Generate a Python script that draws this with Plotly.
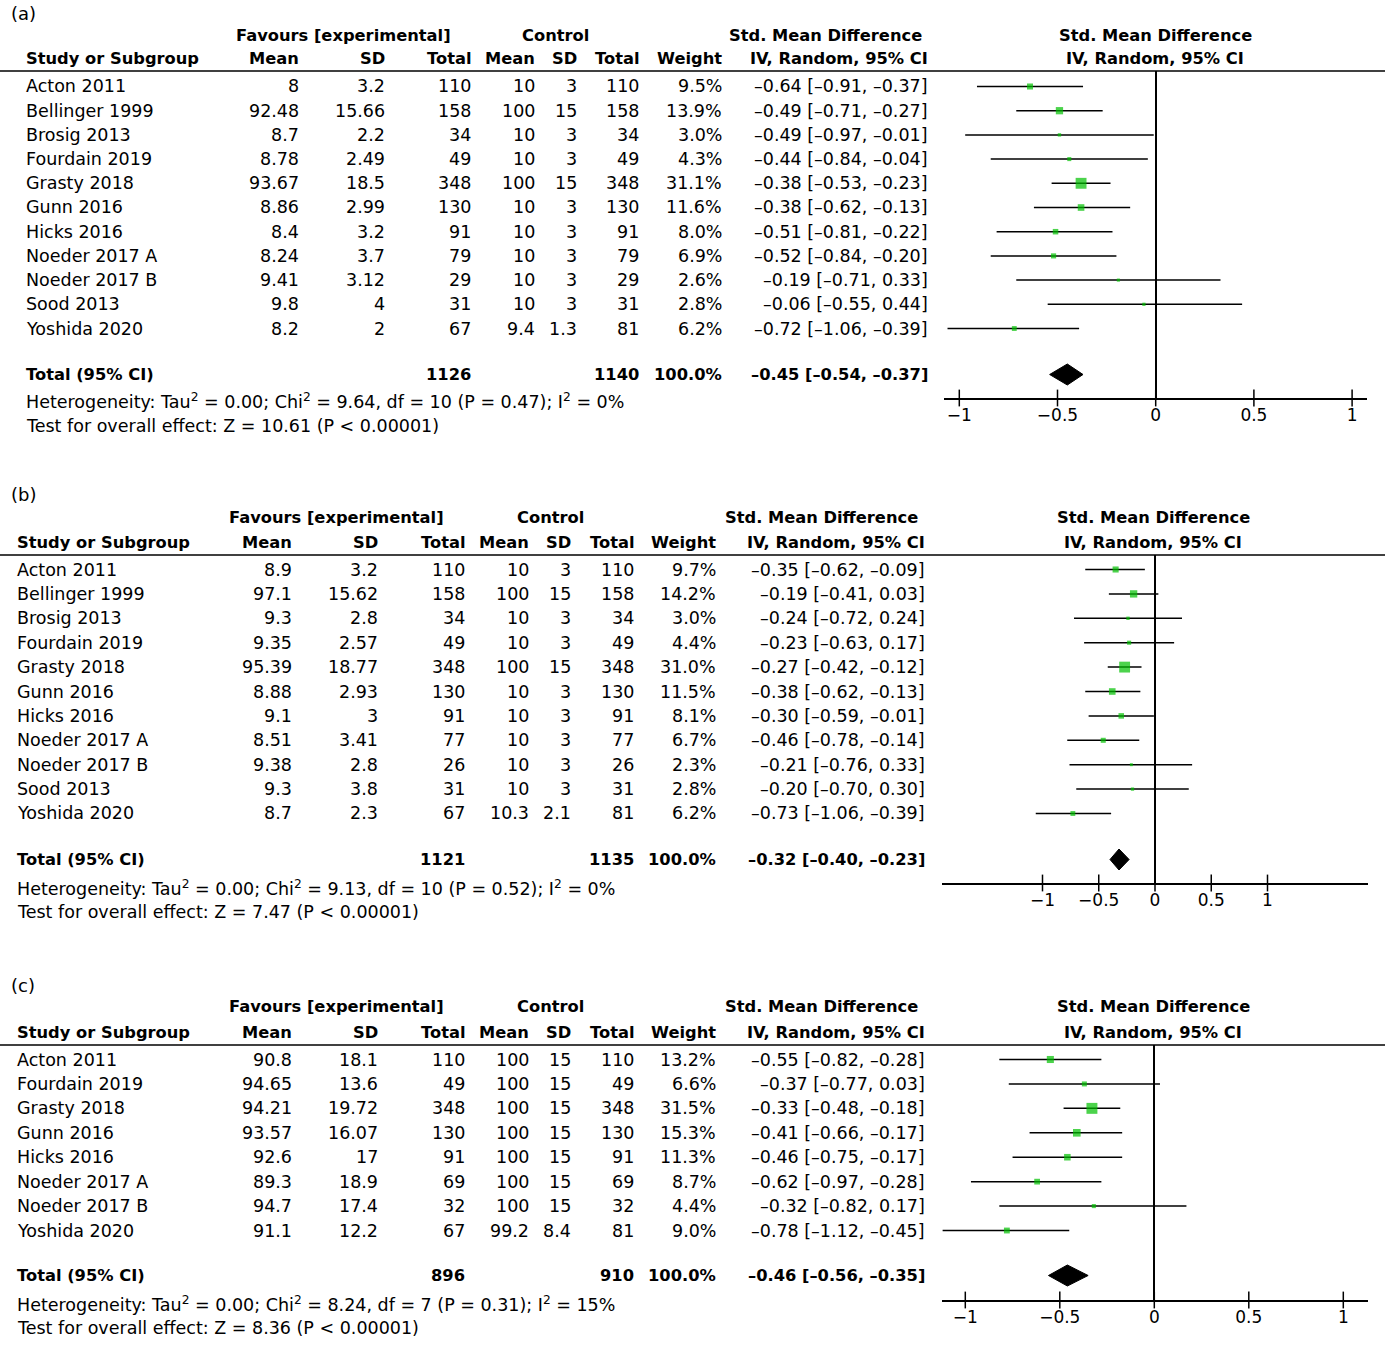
import numpy as np
import plotly.graph_objects as go

W, H = 1385, 1361
FONT = "DejaVu Sans"
FS = 17.5      # regular text
FSB = 16.3     # bold text
GREEN = "#00c000"
TICKS = [-1, -0.5, 0, 0.5, 1]

# ---------------- Data: panel (a) ----------------
a_study = ["Acton 2011", "Bellinger 1999", "Brosig 2013", "Fourdain 2019", "Grasty 2018",
           "Gunn 2016", "Hicks 2016", "Noeder 2017 A", "Noeder 2017 B", "Sood 2013", "Yoshida 2020"]
a_exp_mean = [8, 92.48, 8.7, 8.78, 93.67, 8.86, 8.4, 8.24, 9.41, 9.8, 8.2]
a_exp_sd = [3.2, 15.66, 2.2, 2.49, 18.5, 2.99, 3.2, 3.7, 3.12, 4, 2]
a_exp_n = [110, 158, 34, 49, 348, 130, 91, 79, 29, 31, 67]
a_ctl_mean = [10, 100, 10, 10, 100, 10, 10, 10, 10, 10, 9.4]
a_ctl_sd = [3, 15, 3, 3, 15, 3, 3, 3, 3, 3, 1.3]
a_ctl_n = [110, 158, 34, 49, 348, 130, 91, 79, 29, 31, 81]
a_weight = [9.5, 13.9, 3.0, 4.3, 31.1, 11.6, 8.0, 6.9, 2.6, 2.8, 6.2]
a_smd = [-0.64, -0.49, -0.49, -0.44, -0.38, -0.38, -0.51, -0.52, -0.19, -0.06, -0.72]
a_lo = [-0.91, -0.71, -0.97, -0.84, -0.53, -0.62, -0.81, -0.84, -0.71, -0.55, -1.06]
a_hi = [-0.37, -0.27, -0.01, -0.04, -0.23, -0.13, -0.22, -0.20, 0.33, 0.44, -0.39]
a_tot_n = [1126, 1140]
a_tot_w = 100.0
a_tot_ci = [-0.45, -0.54, -0.37]
a_het = "Heterogeneity: Tau<sup>2</sup> = 0.00; Chi<sup>2</sup> = 9.64, df = 10 (P = 0.47); I<sup>2</sup> = 0%"
a_test = "Test for overall effect: Z = 10.61 (P < 0.00001)"

# ---------------- Data: panel (b) ----------------
b_study = ["Acton 2011", "Bellinger 1999", "Brosig 2013", "Fourdain 2019", "Grasty 2018",
           "Gunn 2016", "Hicks 2016", "Noeder 2017 A", "Noeder 2017 B", "Sood 2013", "Yoshida 2020"]
b_exp_mean = [8.9, 97.1, 9.3, 9.35, 95.39, 8.88, 9.1, 8.51, 9.38, 9.3, 8.7]
b_exp_sd = [3.2, 15.62, 2.8, 2.57, 18.77, 2.93, 3, 3.41, 2.8, 3.8, 2.3]
b_exp_n = [110, 158, 34, 49, 348, 130, 91, 77, 26, 31, 67]
b_ctl_mean = [10, 100, 10, 10, 100, 10, 10, 10, 10, 10, 10.3]
b_ctl_sd = [3, 15, 3, 3, 15, 3, 3, 3, 3, 3, 2.1]
b_ctl_n = [110, 158, 34, 49, 348, 130, 91, 77, 26, 31, 81]
b_weight = [9.7, 14.2, 3.0, 4.4, 31.0, 11.5, 8.1, 6.7, 2.3, 2.8, 6.2]
b_smd = [-0.35, -0.19, -0.24, -0.23, -0.27, -0.38, -0.30, -0.46, -0.21, -0.20, -0.73]
b_lo = [-0.62, -0.41, -0.72, -0.63, -0.42, -0.62, -0.59, -0.78, -0.76, -0.70, -1.06]
b_hi = [-0.09, 0.03, 0.24, 0.17, -0.12, -0.13, -0.01, -0.14, 0.33, 0.30, -0.39]
b_tot_n = [1121, 1135]
b_tot_w = 100.0
b_tot_ci = [-0.32, -0.40, -0.23]
b_het = "Heterogeneity: Tau<sup>2</sup> = 0.00; Chi<sup>2</sup> = 9.13, df = 10 (P = 0.52); I<sup>2</sup> = 0%"
b_test = "Test for overall effect: Z = 7.47 (P < 0.00001)"

# ---------------- Data: panel (c) ----------------
c_study = ["Acton 2011", "Fourdain 2019", "Grasty 2018", "Gunn 2016", "Hicks 2016",
           "Noeder 2017 A", "Noeder 2017 B", "Yoshida 2020"]
c_exp_mean = [90.8, 94.65, 94.21, 93.57, 92.6, 89.3, 94.7, 91.1]
c_exp_sd = [18.1, 13.6, 19.72, 16.07, 17, 18.9, 17.4, 12.2]
c_exp_n = [110, 49, 348, 130, 91, 69, 32, 67]
c_ctl_mean = [100, 100, 100, 100, 100, 100, 100, 99.2]
c_ctl_sd = [15, 15, 15, 15, 15, 15, 15, 8.4]
c_ctl_n = [110, 49, 348, 130, 91, 69, 32, 81]
c_weight = [13.2, 6.6, 31.5, 15.3, 11.3, 8.7, 4.4, 9.0]
c_smd = [-0.55, -0.37, -0.33, -0.41, -0.46, -0.62, -0.32, -0.78]
c_lo = [-0.82, -0.77, -0.48, -0.66, -0.75, -0.97, -0.82, -1.12]
c_hi = [-0.28, 0.03, -0.18, -0.17, -0.17, -0.28, 0.17, -0.45]
c_tot_n = [896, 910]
c_tot_w = 100.0
c_tot_ci = [-0.46, -0.56, -0.35]
c_het = "Heterogeneity: Tau<sup>2</sup> = 0.00; Chi<sup>2</sup> = 8.24, df = 7 (P = 0.31); I<sup>2</sup> = 15%"
c_test = "Test for overall effect: Z = 8.36 (P < 0.00001)"

COL_HEADERS = ["Mean", "SD", "Total", "Mean", "SD", "Total", "Weight", "IV, Random, 95% CI"]

panels = [
    dict(label="(a)", study=a_study, em=a_exp_mean, es=a_exp_sd, en=a_exp_n, cm=a_ctl_mean, cs=a_ctl_sd,
         cn=a_ctl_n, w=a_weight, smd=a_smd, lo=a_lo, hi=a_hi, tot_n=a_tot_n, tot_w=a_tot_w,
         tot_ci=a_tot_ci, het=a_het, test=a_test),
    dict(label="(b)", study=b_study, em=b_exp_mean, es=b_exp_sd, en=b_exp_n, cm=b_ctl_mean, cs=b_ctl_sd,
         cn=b_ctl_n, w=b_weight, smd=b_smd, lo=b_lo, hi=b_hi, tot_n=b_tot_n, tot_w=b_tot_w,
         tot_ci=b_tot_ci, het=b_het, test=b_test),
    dict(label="(c)", study=c_study, em=c_exp_mean, es=c_exp_sd, en=c_exp_n, cm=c_ctl_mean, cs=c_ctl_sd,
         cn=c_ctl_n, w=c_weight, smd=c_smd, lo=c_lo, hi=c_hi, tot_n=c_tot_n, tot_w=c_tot_w,
         tot_ci=c_tot_ci, het=c_het, test=c_test),
]

# ---------------- Layout geometry (pixels) ----------------
layouts = [
    dict(label_y=13, h1_y=35, h2_y=59, line_y=71, row0=86.5, sp=24.2, total_y=374.5, het_y=401.5,
         test_y=425.5, axis_y=398, left=25, cols=[300, 386, 472, 536, 578, 640, 723, 929], fav_c=343,
         ctrl_c=555, smd_c=825, plot_c=1155, xdom=(944, 1367), x0px=1155.7, scale=196.4),
    dict(label_y=495, h1_y=517, h2_y=542, line_y=555, row0=569.5, sp=24.4, total_y=859.5, het_y=887.5,
         test_y=911.5, axis_y=883, left=16, cols=[293, 379, 466, 530, 572, 635, 717, 926], fav_c=336,
         ctrl_c=550, smd_c=821, plot_c=1153, xdom=(941.7, 1367.7), x0px=1155, scale=112.5),
    dict(label_y=985, h1_y=1007, h2_y=1032, line_y=1045, row0=1059.5, sp=24.43, total_y=1275.5,
         het_y=1303.5, test_y=1327.5, axis_y=1300, left=16, cols=[293, 379, 466, 530, 572, 635, 717, 926],
         fav_c=336, ctrl_c=550, smd_c=821, plot_c=1153, xdom=(941.7, 1367.7), x0px=1154.3, scale=189),
]


def py(p):
    return 1 - p / H


def pxx(p):
    return p / W


def fnum(v):
    return f"{v:g}"


def fci(e, l, h):
    return f"{e:.2f} [{l:.2f}, {h:.2f}]".replace("-", "\u2013")


fig = go.Figure()
annotations = []
shapes = []


def ann(text, x, y, xanchor, bold=False, size=None):
    if size is None:
        size = FSB if bold else FS
    if bold:
        text = "<b>" + text + "</b>"
    annotations.append(dict(text=text, x=pxx(x), y=y, xref="paper", yref="paper", xanchor=xanchor,
                            yanchor="middle", showarrow=False, borderpad=0,
                            font=dict(family=FONT, size=size, color="black")))


for n, (d, g) in enumerate(zip(panels, layouts), start=1):
    xa = "x" if n == 1 else f"x{n}"
    ya = "y" if n == 1 else f"y{n}"
    xkey = "xaxis" if n == 1 else f"xaxis{n}"
    ykey = "yaxis" if n == 1 else f"yaxis{n}"
    rows = np.arange(len(d["study"]))
    total_r = (g["total_y"] - g["row0"]) / g["sp"]
    yr = [(g["axis_y"] - g["row0"]) / g["sp"], (g["line_y"] - g["row0"]) / g["sp"]]
    xr = [(g["xdom"][0] - g["x0px"]) / g["scale"], (g["xdom"][1] - g["x0px"]) / g["scale"]]

    smd = np.array(d["smd"])
    lo = np.array(d["lo"])
    hi = np.array(d["hi"])
    w = np.array(d["w"])

    # studies: CI lines + weighted squares
    fig.add_trace(go.Scatter(
        x=smd, y=rows, mode="markers", xaxis=xa, yaxis=ya, cliponaxis=False, hoverinfo="skip",
        marker=dict(symbol="square", size=1.95 * np.sqrt(w), color=GREEN, line=dict(width=0)),
        error_x=dict(type="data", symmetric=False, array=hi - smd, arrayminus=smd - lo,
                     width=0, thickness=1.5, color="black"),
    ))
    # pooled diamond
    e, l, h = d["tot_ci"]
    dh = 10.5 / g["sp"]
    fig.add_trace(go.Scatter(
        x=[l, e, h, e, l], y=[total_r, total_r - dh, total_r, total_r + dh, total_r],
        mode="lines", fill="toself", fillcolor="black", line=dict(color="black", width=1),
        xaxis=xa, yaxis=ya, cliponaxis=False, hoverinfo="skip",
    ))
    # crossing tick marks
    fig.add_trace(go.Scatter(
        x=TICKS, y=[yr[0]] * len(TICKS), mode="markers", xaxis=xa, yaxis=ya, cliponaxis=False,
        hoverinfo="skip",
        marker=dict(symbol="line-ns-open", size=12, color="black", line=dict(width=1.5, color="black")),
    ))

    fig.layout[xkey] = dict(domain=[pxx(g["xdom"][0]), pxx(g["xdom"][1])], range=xr, anchor=ya,
                            showgrid=False, showline=True, linecolor="black", linewidth=1.5,
                            zeroline=True, zerolinecolor="black", zerolinewidth=1.5,
                            tickvals=TICKS, ticks="outside", ticklen=1, tickcolor="rgba(0,0,0,0)",
                            tickfont=dict(family=FONT, size=17, color="black"), fixedrange=True)
    fig.layout[ykey] = dict(domain=[py(g["axis_y"]), py(g["line_y"])], range=yr, anchor=xa,
                            showgrid=False, showline=False, zeroline=False, showticklabels=False,
                            ticks="", fixedrange=True)

    # header rule
    shapes.append(dict(type="line", xref="paper", yref="paper", x0=0, x1=1, y0=py(g["line_y"]),
                       y1=py(g["line_y"]), line=dict(color="black", width=1.5)))

    # panel label and headers
    ann(d["label"], 10, py(g["label_y"]), "left", size=18)
    ann("Favours [experimental]", g["fav_c"], py(g["h1_y"]), "center", True)
    ann("Control", g["ctrl_c"], py(g["h1_y"]), "center", True)
    ann("Std. Mean Difference", g["smd_c"], py(g["h1_y"]), "center", True)
    ann("Std. Mean Difference", g["plot_c"], py(g["h1_y"]), "center", True)
    ann("Study or Subgroup", g["left"], py(g["h2_y"]), "left", True)
    for txt, cx in zip(COL_HEADERS, g["cols"]):
        ann(txt, cx, py(g["h2_y"]), "right", True)
    ann("IV, Random, 95% CI", g["plot_c"], py(g["h2_y"]), "center", True)

    # study rows
    for i in range(len(d["study"])):
        yv = py(g["row0"] + g["sp"] * i)
        vals = [fnum(d["em"][i]), fnum(d["es"][i]), str(d["en"][i]), fnum(d["cm"][i]), fnum(d["cs"][i]),
                str(d["cn"][i]), f"{d['w'][i]:.1f}%", fci(d["smd"][i], d["lo"][i], d["hi"][i])]
        ann(d["study"][i], g["left"], yv, "left")
        for txt, cx in zip(vals, g["cols"]):
            ann(txt, cx, yv, "right")

    # total row
    yt = py(g["total_y"])
    ann("Total (95% CI)", g["left"], yt, "left", True)
    ann(str(d["tot_n"][0]), g["cols"][2], yt, "right", True)
    ann(str(d["tot_n"][1]), g["cols"][5], yt, "right", True)
    ann(f"{d['tot_w']:.1f}%", g["cols"][6], yt, "right", True)
    ann(fci(*d["tot_ci"]), g["cols"][7], yt, "right", True)
    ann(d["het"], g["left"], py(g["het_y"]), "left")
    ann(d["test"], g["left"], py(g["test_y"]), "left")

fig.update_layout(width=W, height=H, margin=dict(l=0, r=0, t=0, b=0), showlegend=False,
                  paper_bgcolor="white", plot_bgcolor="white", annotations=annotations, shapes=shapes,
                  font=dict(family=FONT, size=FS, color="black"))

fig.write_html("out.html", config={"displayModeBar": False},
               post_script="document.body.style.margin='0';")
